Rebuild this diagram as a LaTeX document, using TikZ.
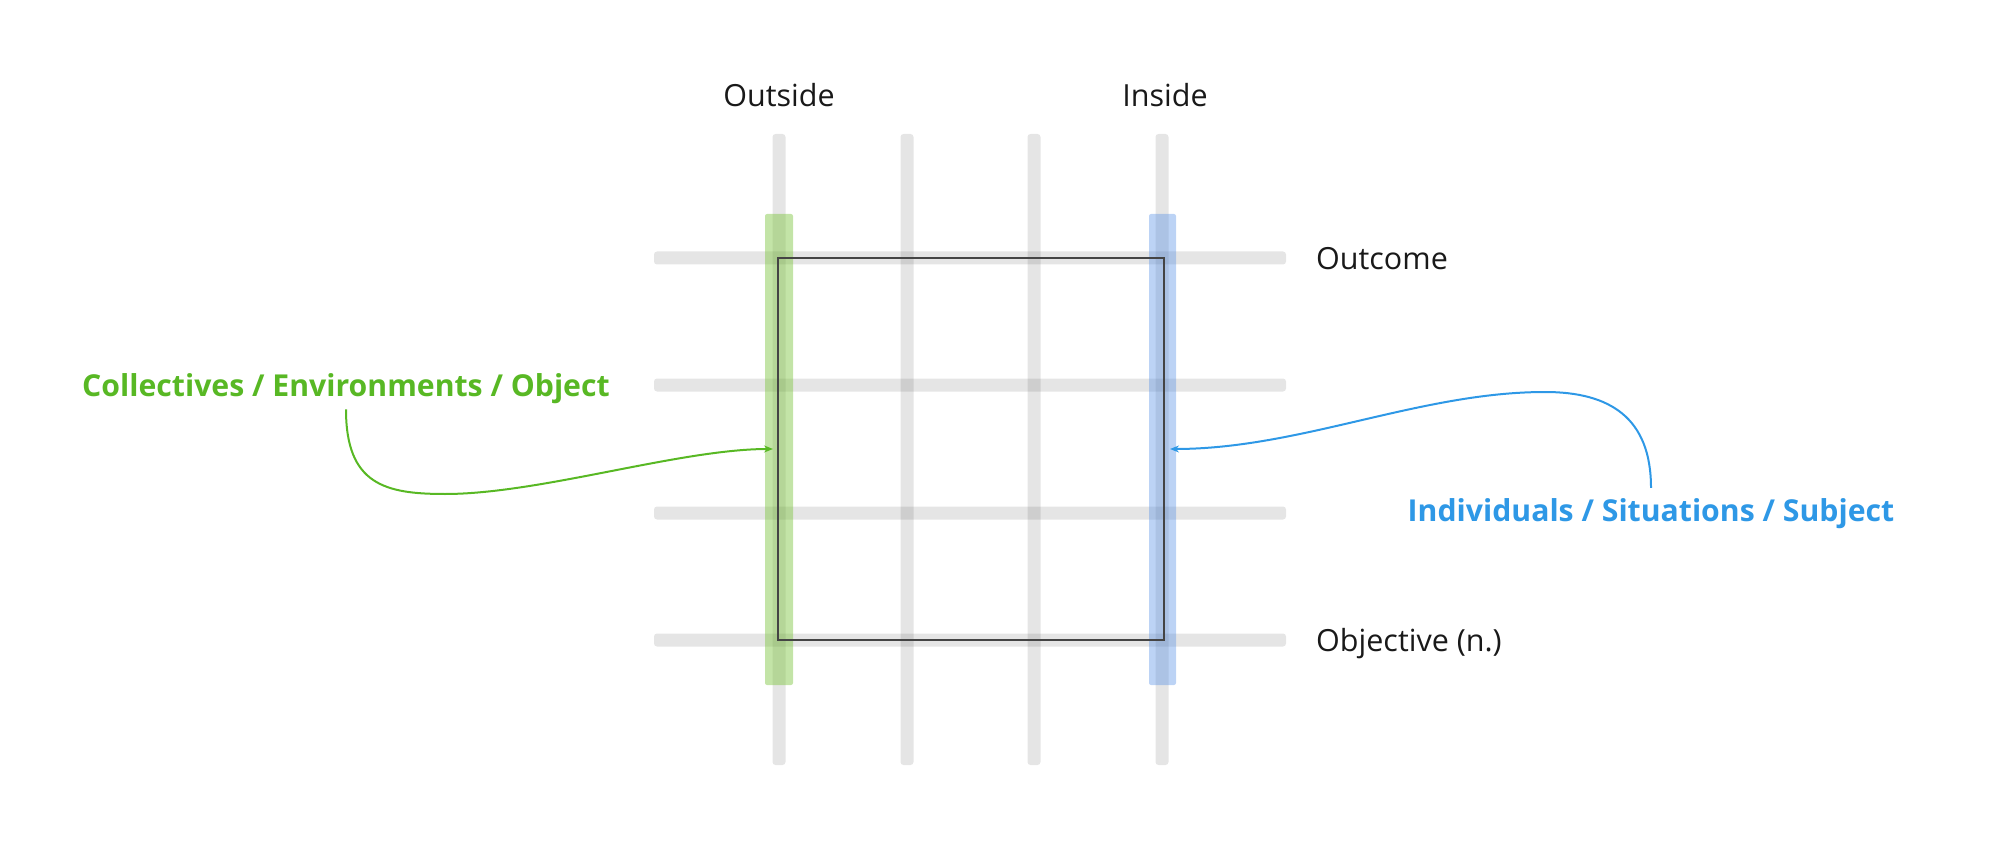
\documentclass[tikz,border=0pt]{standalone}
\usepackage{fontspec}
\setmainfont{Open Sans}
\usetikzlibrary{arrows.meta}
\definecolor{gcol}{RGB}{88,184,36}
\definecolor{bcol}{RGB}{46,152,230}
\definecolor{gband}{RGB}{123,196,59}
\definecolor{bband}{RGB}{80,140,230}
\definecolor{boxline}{RGB}{68,68,68}
\tikzset{
  bar/.style={fill=black, fill opacity=0.1, rounded corners=3pt, draw=none},
  gbandst/.style={fill=gband, fill opacity=0.45, rounded corners=2pt, draw=none},
  bbandst/.style={fill=bband, fill opacity=0.38, rounded corners=2pt, draw=none},
  axislabel/.style={inner sep=0pt, font=\fontsize{30.5}{36}\selectfont, text=black!90},
  sidelabel/.style={inner sep=0pt, font=\fontsize{30.2}{36}\selectfont\bfseries},
  gconn/.style={draw=gcol, line width=2pt, -{Stealth[length=9pt,width=7pt]}},
  bconn/.style={draw=bcol, line width=2pt, -{Stealth[length=9pt,width=7pt]}},
}
\begin{document}
\begin{tikzpicture}[x=1pt,y=-1pt]
\useasboundingbox (0,0) rectangle (2000,850);
% vertical bars
\foreach \x in {779,907,1034,1162}{
  \fill[bar] (\x-6.5,134) rectangle (\x+6.5,765);
}
% horizontal bars
\foreach \y in {258,385,513,640}{
  \fill[bar] (654,\y-6.5) rectangle (1286,\y+6.5);
}
% coloured bands
\fill[gbandst] (765,214) rectangle (793,685);
\fill[bbandst] (1149,214) rectangle (1176,685);
% frame
\draw[boxline, line width=2.4pt] (778,258) rectangle (1164,640);
% labels
\node[axislabel, anchor=base] (outside) at (779,107) {Outside};
\node[axislabel, anchor=base] (inside) at (1165,107) {Inside};
\node[axislabel, anchor=base west] (outcome) at (1316,269.5) {Outcome};
\node[axislabel, anchor=base west] (objective) at (1316,651) {Objective (n.)};
\node[sidelabel, text=gcol, anchor=base] (glabel) at (346,396) {Collectives / Environments / Object};
\node[sidelabel, text=bcol, anchor=base] (blabel) at (1651,521) {Individuals / Situations / Subject};
% connector endpoints
\coordinate (gend) at (773,449);
\coordinate (bend) at (1170,449);
\coordinate (gstart) at ([yshift=-6pt]glabel.south);
\coordinate (bstart) at ([yshift=10pt]blabel.north);
% connectors
\draw[gconn] (gstart) .. controls ++(0,75) and (385,494) .. (445,494)
  .. controls (540,494) and (680,449) .. (gend);
\draw[bconn] (bstart) .. controls ++(0,-70) and (1610,392) .. (1545,392)
  .. controls (1420,392) and (1300,449) .. (bend);
\end{tikzpicture}
\end{document}
